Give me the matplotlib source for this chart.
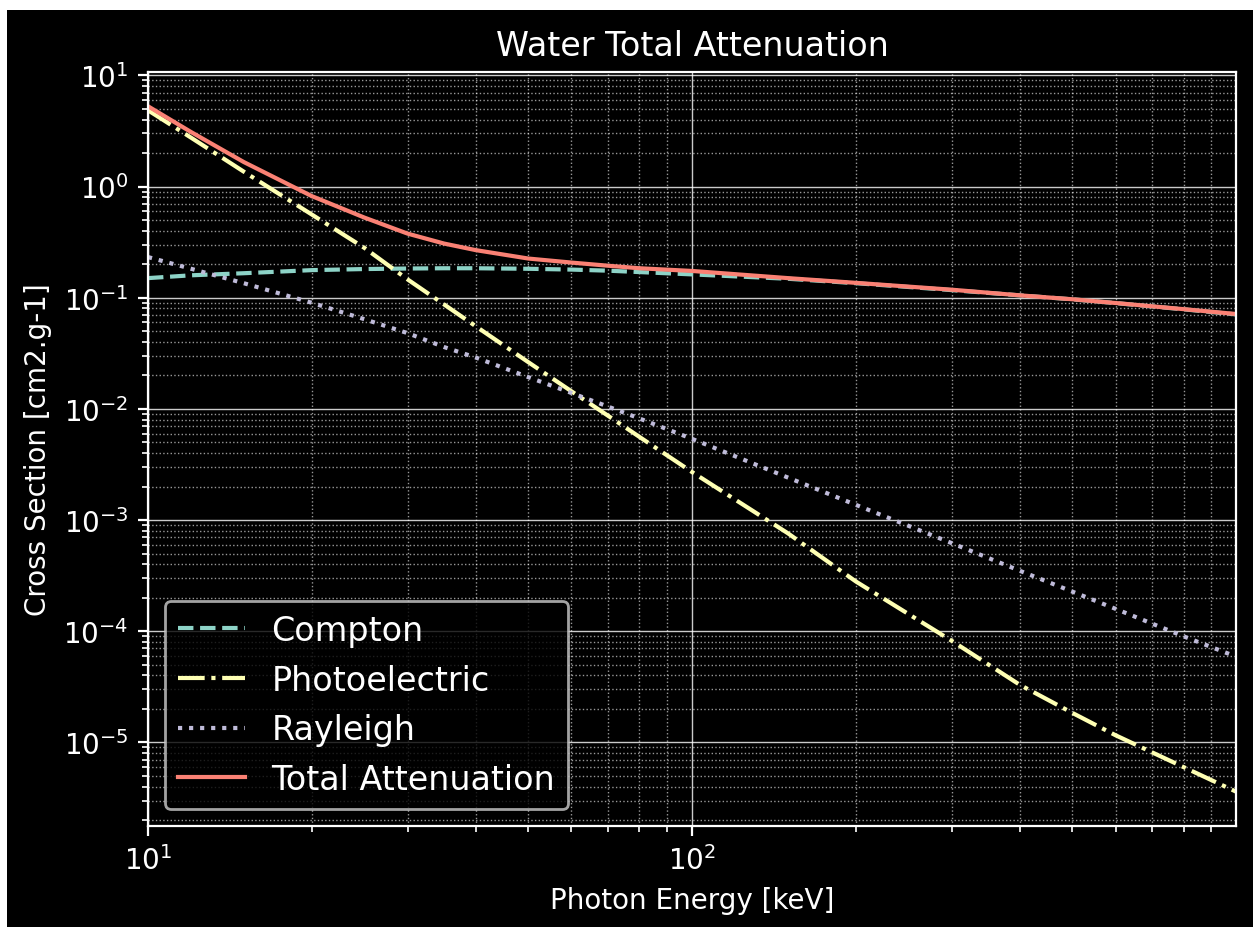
# Import libraries
import matplotlib
matplotlib.use('Agg')
import matplotlib.pyplot as plt
from matplotlib.patches import Rectangle

# Photon energies (keV) and mass cross sections (cm2/g)
energy = [10, 12, 15, 20, 25, 30, 35, 40, 50, 60, 70, 80, 100, 150, 200, 300, 400, 500, 600, 800, 1000]
compton = [0.150, 0.159, 0.166, 0.177, 0.181, 0.183, 0.184, 0.184, 0.182, 0.179, 0.175, 0.170, 0.162,
           0.148, 0.135, 0.117, 0.105, 0.0966, 0.0894, 0.0786, 0.0707]
photo = [4.85, 2.75, 1.36, 0.56, 0.28, 0.146, 0.087, 0.0555, 0.0263, 0.0144, 0.0087, 0.0056, 0.0027,
         7.6e-4, 2.8e-4, 8.2e-5, 3.3e-5, 1.84e-5, 1.16e-5, 6.0e-6, 3.6e-6]
rayleigh = [0.232, 0.182, 0.135, 0.090, 0.064, 0.048, 0.036, 0.029, 0.0193, 0.0139, 0.0105, 0.0082, 0.00537,
            0.00241, 0.00137, 6.2e-4, 3.5e-4, 2.27e-4, 1.59e-4, 9.0e-5, 5.9e-5]
total = [5.27, 3.09, 1.66, 0.82, 0.525, 0.377, 0.307, 0.268, 0.225, 0.207, 0.194, 0.184, 0.174,
         0.150, 0.136, 0.118, 0.105, 0.0968, 0.0896, 0.0789, 0.0713]

plt.style.use('dark_background')

W, H = 1253, 928
fig = plt.figure(figsize=(W/200, H/200), dpi=200, facecolor='white')
# black canvas with a thin white strip on top and left, as in the source image
fig.patches.append(Rectangle((7/W, 0), 1, 1 - 11/H, transform=fig.transFigure,
                             facecolor='black', edgecolor='none', zorder=-10))

ax = fig.add_axes([148/W, 1 - 827/H, (1236 - 148)/W, (827 - 73)/H])
ax.set_facecolor('black')

ax.loglog(energy, compton, '--', label='Compton')
ax.loglog(energy, photo, '-.', label='Photoelectric')
ax.loglog(energy, rayleigh, ':', label='Rayleigh')
ax.loglog(energy, total, '-', label='Total Attenuation')

ax.set_xlim(10, 999)
ax.set_title('Water Total Attenuation', fontsize=12)
ax.set_xlabel('Photon Energy [keV]')
ax.set_ylabel('Cross Section [cm2.g-1]')
ax.grid(which='major', color='white', lw=0.5, alpha=0.8)
ax.grid(which='minor', color='white', ls=':', lw=0.5, alpha=0.6)
ax.legend(loc='lower left', fontsize=12)

fig.savefig('out.png', dpi=200, facecolor='white')
